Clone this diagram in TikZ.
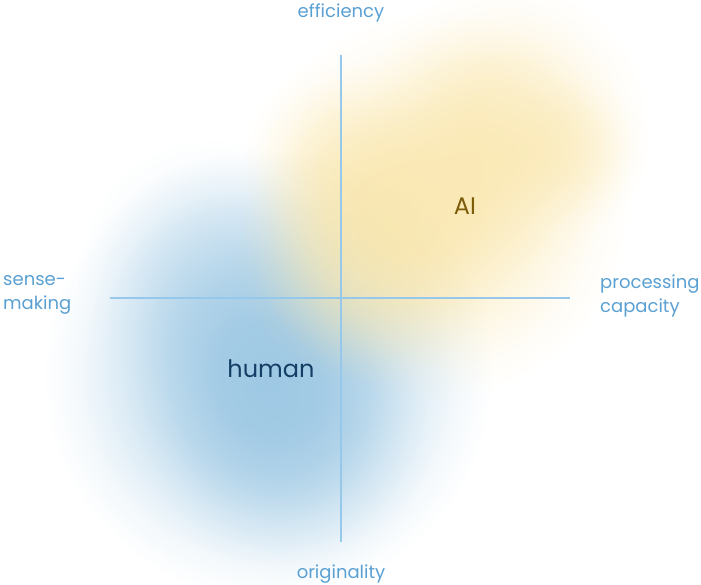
\documentclass[tikz,border=0pt]{standalone}
\usepackage{fontspec}
\setmainfont{Poppins}
\usetikzlibrary{fadings}
\pgfdeclareradialshading{softshade}{\pgfpoint{0bp}{0bp}}{%
  color(0bp)=(pgftransparent!0);
  color(6bp)=(pgftransparent!8);
  color(11bp)=(pgftransparent!30);
  color(16bp)=(pgftransparent!62);
  color(21bp)=(pgftransparent!88);
  color(25bp)=(pgftransparent!100);
  color(50bp)=(pgftransparent!100)}
\pgfdeclarefading{softfade}{\pgfuseshading{softshade}}
\definecolor{blobblue}{RGB}{145,193,224}
\definecolor{blobyellow}{RGB}{249,228,165}
\definecolor{axiscol}{RGB}{150,200,235}
\definecolor{labelcol}{RGB}{90,160,210}
\definecolor{humancol}{RGB}{20,62,100}
\definecolor{aicol}{RGB}{125,92,10}
\tikzset{
  bblue/.style={fill=blobblue, path fading=softfade, fill opacity=#1},
  byel/.style={fill=blobyellow, path fading=softfade, fill opacity=#1},
  axisline/.style={draw=axiscol, line width=1.1pt},
  axlabel/.style={text=labelcol, font=\fontsize{18}{24}\selectfont, inner sep=0pt, align=left},
  bloblabel/.style={font=\fontsize{24}{28}\selectfont, inner sep=0pt}
}
\begin{document}
\begin{tikzpicture}[x=1pt,y=-1pt]
\useasboundingbox (0,0) rectangle (701,585);
% blue blob
\fill[bblue=0.85] (268,375) circle (225);
\fill[bblue=0.3] (215,275) circle (140);
\fill[bblue=0.35] (290,440) circle (140);
% yellow blob
\fill[byel=0.75] (435,205) circle (195);
\fill[byel=0.55] (505,125) circle (145);
\fill[byel=0.55] (365,255) circle (130);
\fill[byel=0.4] (345,165) circle (105);
\fill[byel=0.3] (570,150) circle (80);
% axes
\coordinate (top) at (341,55);
\coordinate (bot) at (341,542);
\coordinate (lft) at (110,298);
\coordinate (rgt) at (570,298);
\draw[axisline] (top) -- (bot);
\draw[axisline] (lft) -- (rgt);
% labels
\node[axlabel] (eff) at (341,13) {efficiency};
\node[axlabel] (orig) at (341,574) {originality};
\node[axlabel, anchor=west] (sense) at (3,295) {sense-\\making};
\node[axlabel, anchor=west] (proc) at (600,296) {processing\\capacity};
\node[bloblabel, text=humancol] (human) at (271,369) {human};
\node[bloblabel, text=aicol] (ai) at (465,206) {AI};
\end{tikzpicture}
\end{document}
